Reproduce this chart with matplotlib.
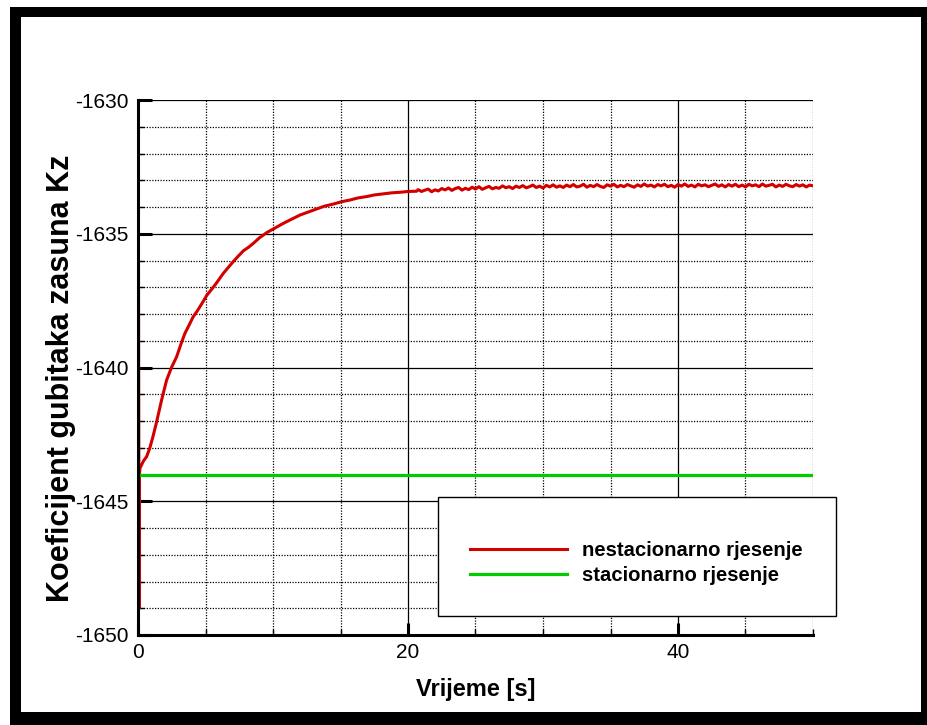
import matplotlib
matplotlib.use("Agg")
import matplotlib.pyplot as plt
from matplotlib.patches import Rectangle
from matplotlib.ticker import MultipleLocator

plt.rcParams['font.family'] = ['Liberation Sans', 'DejaVu Sans']
plt.rcParams['axes.unicode_minus'] = False

# data
# rising part of the unsteady solution
rise_time = [0.0, 0.08, 0.1, 0.15, 0.4, 0.64, 0.88, 1.1, 1.38, 1.75, 2.12, 2.49, 2.86,
             3.2, 3.47, 3.8, 4.09, 4.4, 4.72, 5.1, 5.45, 5.8, 6.32, 6.7, 7.06, 7.4, 7.8,
             8.2, 8.54, 9.0, 9.53, 10.1, 10.77, 11.4, 12.0, 12.6, 13.24, 13.8, 14.47,
             15.1, 15.7, 16.3, 16.94, 17.5, 18.17, 18.8, 19.4, 20.0, 20.64]
rise_kz = [-1625.0, -1649.0, -1644.0, -1643.76, -1643.5, -1643.33, -1643.0, -1642.6,
           -1642.03, -1641.21, -1640.47, -1639.99, -1639.6, -1639.1, -1638.73,
           -1638.4, -1638.1, -1637.88, -1637.62, -1637.3, -1637.08, -1636.85,
           -1636.48, -1636.25, -1636.04, -1635.85, -1635.64, -1635.5, -1635.36,
           -1635.15, -1634.96, -1634.8, -1634.61, -1634.45, -1634.3, -1634.19,
           -1634.07, -1633.97, -1633.89, -1633.8, -1633.74, -1633.66, -1633.61,
           -1633.55, -1633.51, -1633.47, -1633.45, -1633.42, -1633.41]

# noisy plateau of the unsteady solution
plateau_time = [20.75, 21.0, 21.25, 21.5, 21.75, 22.0, 22.25, 22.5,
                22.75, 23.0, 23.25, 23.5, 23.75, 24.0, 24.25, 24.5,
                24.75, 25.0, 25.25, 25.5, 25.75, 26.0, 26.25, 26.5,
                26.75, 27.0, 27.25, 27.5, 27.75, 28.0, 28.25, 28.5,
                28.75, 29.0, 29.25, 29.5, 29.75, 30.0, 30.25, 30.5,
                30.75, 31.0, 31.25, 31.5, 31.75, 32.0, 32.25, 32.5,
                32.75, 33.0, 33.25, 33.5, 33.75, 34.0, 34.25, 34.5,
                34.75, 35.0, 35.25, 35.5, 35.75, 36.0, 36.25, 36.5,
                36.75, 37.0, 37.25, 37.5, 37.75, 38.0, 38.25, 38.5,
                38.75, 39.0, 39.25, 39.5, 39.75, 40.0, 40.25, 40.5,
                40.75, 41.0, 41.25, 41.5, 41.75, 42.0, 42.25, 42.5,
                42.75, 43.0, 43.25, 43.5, 43.75, 44.0, 44.25, 44.5,
                44.75, 45.0, 45.25, 45.5, 45.75, 46.0, 46.25, 46.5,
                46.75, 47.0, 47.25, 47.5, 47.75, 48.0, 48.25, 48.5,
                48.75, 49.0, 49.25, 49.5, 49.75, 50.0]
plateau_kz = [-1633.35, -1633.42, -1633.37, -1633.33, -1633.43, -1633.36, -1633.40, -1633.31,
              -1633.36, -1633.29, -1633.38, -1633.31, -1633.27, -1633.37, -1633.30, -1633.35,
              -1633.26, -1633.33, -1633.24, -1633.34, -1633.28, -1633.23, -1633.32, -1633.27,
              -1633.30, -1633.21, -1633.28, -1633.24, -1633.31, -1633.22, -1633.27, -1633.20,
              -1633.28, -1633.24, -1633.18, -1633.27, -1633.22, -1633.29, -1633.19, -1633.25,
              -1633.17, -1633.26, -1633.21, -1633.27, -1633.18, -1633.24, -1633.16, -1633.25,
              -1633.22, -1633.15, -1633.26, -1633.19, -1633.24, -1633.16, -1633.23, -1633.27,
              -1633.17, -1633.22, -1633.15, -1633.25, -1633.19, -1633.24, -1633.16, -1633.21,
              -1633.26, -1633.17, -1633.23, -1633.14, -1633.22, -1633.18, -1633.25, -1633.16,
              -1633.21, -1633.15, -1633.24, -1633.19, -1633.26, -1633.16, -1633.22, -1633.14,
              -1633.23, -1633.18, -1633.25, -1633.15, -1633.21, -1633.17, -1633.24, -1633.19,
              -1633.14, -1633.23, -1633.17, -1633.25, -1633.16, -1633.22, -1633.15, -1633.24,
              -1633.18, -1633.25, -1633.15, -1633.21, -1633.17, -1633.24, -1633.14, -1633.22,
              -1633.19, -1633.15, -1633.25, -1633.18, -1633.23, -1633.15, -1633.21, -1633.24,
              -1633.16, -1633.22, -1633.17, -1633.25, -1633.18, -1633.21]

steady_time = [0.0, 50.0]
kz_steady = [-1644.0, -1644.0]

x_ticks = [0, 20, 40]
y_ticks = [-1650, -1645, -1640, -1635, -1630]

time_s = rise_time + plateau_time
kz_unsteady = rise_kz + plateau_kz

fig = plt.figure(figsize=(9.28, 7.25), dpi=100)

# outer frame with shadow
fig.patches.append(Rectangle((10 / 928, 0), 918 / 928, 718 / 725, transform=fig.transFigure,
                             facecolor='black', edgecolor='none', zorder=-10))
fig.patches.append(Rectangle((21 / 928, 13 / 725), 900 / 928, 695 / 725, transform=fig.transFigure,
                             facecolor='white', edgecolor='none', zorder=-9))

ax = fig.add_axes([138 / 928, 90 / 725, 675 / 928, 535 / 725])
ax.set_facecolor('none')

ax.plot(time_s, kz_unsteady, color='#d40000', lw=2.2, label='nestacionarno rjesenje', zorder=3)
ax.plot(steady_time, kz_steady, color='#00cc00', lw=2.3, label='stacionarno rjesenje', zorder=3)

ax.set_xlim(0, 50)
ax.set_ylim(-1650, -1630)
ax.set_xticks(x_ticks)
ax.set_yticks(y_ticks)
ax.xaxis.set_minor_locator(MultipleLocator(5))
ax.yaxis.set_minor_locator(MultipleLocator(1))

ax.grid(which='major', color='black', lw=0.9, ls='-')
ax.grid(which='minor', color='black', lw=0.9, ls=(0, (1, 1.2)))
ax.set_axisbelow(True)

for s in ['top', 'right']:
    ax.spines[s].set_visible(False)
for s in ['left', 'bottom']:
    ax.spines[s].set_linewidth(2.2)
    ax.spines[s].set_zorder(4)

ax.tick_params(which='major', direction='in', length=10, width=2.2, labelsize=15, pad=7)
ax.tick_params(which='minor', direction='in', length=4, width=1)
ax.tick_params(axis='x', which='major', length=9, pad=6)

ax.set_xlabel('Vrijeme [s]', fontsize=17, fontweight='bold')
ax.set_ylabel('Koeficijent gubitaka zasuna Kz', fontsize=22, fontweight='bold', va='center')
ax.xaxis.set_label_coords(0.5, -0.08)
ax.yaxis.set_label_coords(-0.114, 0.48)

# legend box
fig.patches.append(Rectangle((438 / 928, 109 / 725), 398 / 928, 119 / 725, transform=fig.transFigure,
                             facecolor='white', edgecolor='black', lw=1, zorder=4.5))
handles, labels = ax.get_legend_handles_labels()
leg = fig.legend(handles, labels, loc='center left', bbox_to_anchor=(470 / 928, 162 / 725),
                 frameon=False, borderpad=0, borderaxespad=0, handlelength=4.8,
                 handletextpad=0.74, labelspacing=0.31,
                 prop={'size': 14.6, 'weight': 'bold'})
leg.set_zorder(5)

fig.savefig('out.png', dpi=100)
